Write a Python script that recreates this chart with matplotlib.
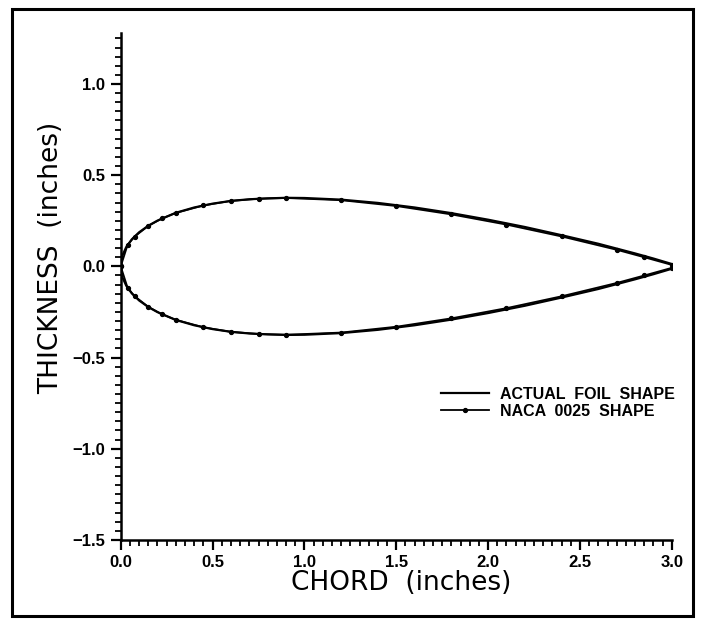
import matplotlib
matplotlib.use("Agg")
import matplotlib.pyplot as plt
from matplotlib.patches import Rectangle
from matplotlib.ticker import MultipleLocator, FuncFormatter

# NACA 0025 ordinates (inches), 3 in. chord
naca_x = [0.0, 0.0375, 0.075, 0.15, 0.225, 0.3, 0.45, 0.6, 0.75, 0.9,
          1.2, 1.5, 1.8, 2.1, 2.4, 2.7, 2.85, 3.0]
naca_upper = [0.0, 0.118, 0.163, 0.222, 0.263, 0.293, 0.334, 0.359, 0.371, 0.375,
              0.363, 0.331, 0.285, 0.229, 0.164, 0.091, 0.050, 0.008]
naca_lower = [0.0, -0.118, -0.163, -0.222, -0.263, -0.293, -0.334, -0.359, -0.371, -0.375,
              -0.363, -0.331, -0.285, -0.229, -0.164, -0.091, -0.050, -0.008]

# measured foil
foil_x = [0.0, 0.01, 0.03, 0.06, 0.1, 0.15, 0.2, 0.3, 0.4, 0.5, 0.6, 0.7, 0.8, 0.9,
          1.0, 1.2, 1.4, 1.6, 1.8, 2.0, 2.2, 2.4, 2.6, 2.8, 2.9, 3.0, 3.02]
foil_upper = [0.0, 0.062, 0.106, 0.148, 0.187, 0.223, 0.251, 0.294, 0.323, 0.344, 0.359,
              0.368, 0.373, 0.376, 0.375, 0.366, 0.348, 0.323, 0.292, 0.256, 0.216,
              0.171, 0.124, 0.071, 0.043, 0.013, 0.0]
foil_lower = [0.0, -0.062, -0.106, -0.148, -0.187, -0.223, -0.251, -0.294, -0.323, -0.344,
              -0.359, -0.368, -0.373, -0.376, -0.375, -0.366, -0.348, -0.323, -0.292,
              -0.256, -0.216, -0.171, -0.124, -0.071, -0.043, -0.013, 0.0]

fig = plt.figure(figsize=(7.02, 6.22), dpi=100)
ax = fig.add_axes([0.172, 0.132, 0.785, 0.815])

ax.plot(foil_x, foil_upper, color="black", lw=1.6, label="ACTUAL  FOIL  SHAPE")
ax.plot(foil_x, foil_lower, color="black", lw=1.6)
ax.plot(naca_x, naca_upper, color="black", lw=1.3, marker="o", ms=2.8,
        label="NACA  0025  SHAPE")
ax.plot(naca_x, naca_lower, color="black", lw=1.3, marker="o", ms=2.8)

ax.set_xlim(0, 3.0)
ax.set_ylim(-1.5, 1.28)
ax.xaxis.set_major_locator(MultipleLocator(0.5))
ax.xaxis.set_minor_locator(MultipleLocator(0.05))
ax.yaxis.set_major_locator(MultipleLocator(0.5))
ax.yaxis.set_minor_locator(MultipleLocator(0.05))
fmt = FuncFormatter(lambda v, p: ("%.1f" % v).replace("-", "\u2212"))
ax.xaxis.set_major_formatter(fmt)
ax.yaxis.set_major_formatter(fmt)

for s in ["top", "right"]:
    ax.spines[s].set_visible(False)
for s in ["left", "bottom"]:
    ax.spines[s].set_linewidth(1.8)

ax.tick_params(which="major", direction="out", length=7, width=1.6, pad=4)
ax.tick_params(which="minor", direction="out", length=4, width=1.3)
for lab in ax.get_xticklabels() + ax.get_yticklabels():
    lab.set_fontfamily("Liberation Sans")
    lab.set_fontweight("bold")
    lab.set_fontsize(12)

ax.set_xlabel("CHORD  (inches)", fontfamily="DejaVu Sans", fontsize=19)
ax.set_ylabel("THICKNESS  (inches)", fontfamily="DejaVu Sans", fontsize=19)
ax.xaxis.set_label_coords(0.508, -0.060)
ax.yaxis.set_label_coords(-0.103, 0.556)

leg = ax.legend(loc="upper left", bbox_to_anchor=(0.581, 0.302), frameon=False,
                borderpad=0, borderaxespad=0, handlelength=3.0, handletextpad=0.7,
                labelspacing=0.12, prop={"family": "Liberation Sans", "weight": "bold",
                                         "size": 11.5})

fig.patches.append(Rectangle((0.017, 0.010), 0.970, 0.976, transform=fig.transFigure,
                             fill=False, edgecolor="black", lw=2.2))

fig.savefig("out.png", dpi=100)
